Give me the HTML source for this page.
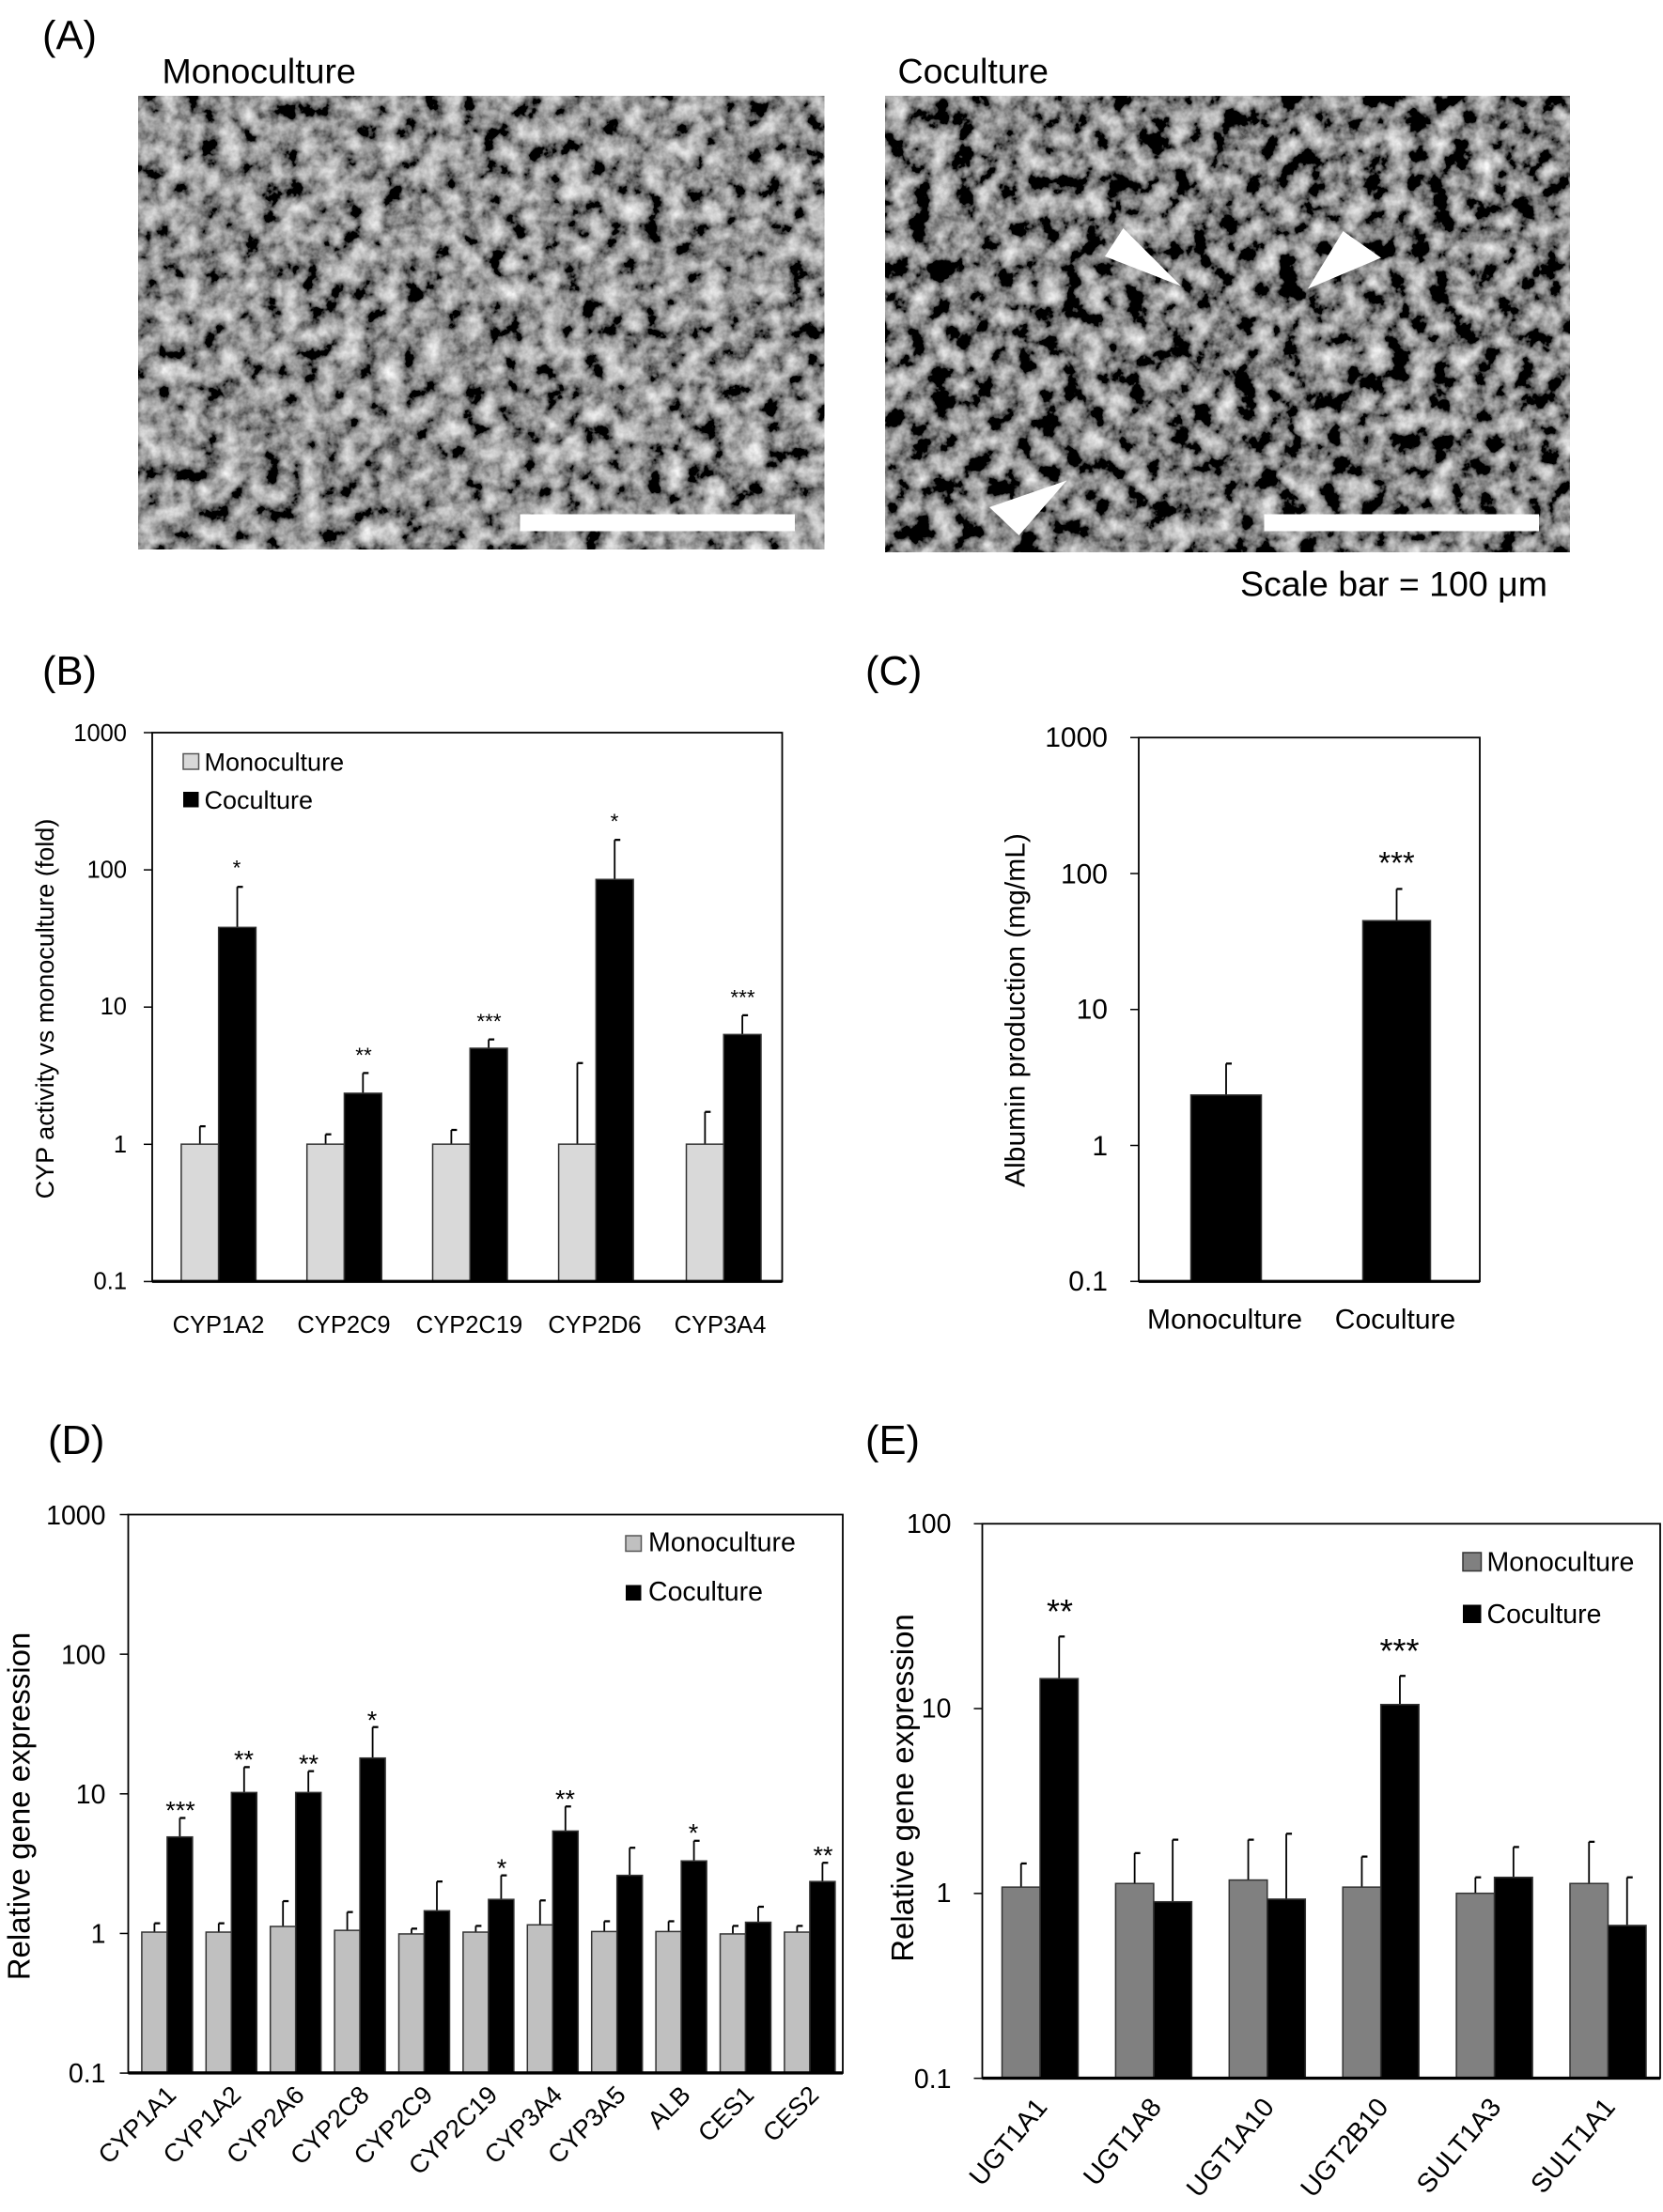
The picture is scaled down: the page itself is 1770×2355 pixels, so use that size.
<!DOCTYPE html>
<html><head><meta charset="utf-8"><style>
html,body{margin:0;padding:0;background:#fff;}
svg{display:block;font-family:"Liberation Sans",Arial,sans-serif;}
</style></head><body>
<svg id="s" xmlns="http://www.w3.org/2000/svg" width="1770" height="2355" viewBox="0 0 1180 1570">
<defs>
<filter id="n1" x="0" y="0" width="100%" height="100%">
<feTurbulence type="fractalNoise" baseFrequency="0.07" numOctaves="4" seed="4"/>
<feColorMatrix type="matrix" values="1.5 0 0 0 -0.45  1.5 0 0 0 -0.45  1.5 0 0 0 -0.45  0 0 0 0 1"/>
</filter>
<filter id="n2" x="0" y="0" width="100%" height="100%">
<feTurbulence type="fractalNoise" baseFrequency="0.065" numOctaves="4" seed="9"/>
<feColorMatrix type="matrix" values="1.7 0 0 0 -0.62  1.7 0 0 0 -0.62  1.7 0 0 0 -0.62  0 0 0 0 1"/>
</filter>
</defs>
<rect width="1180" height="1570" fill="#fff"/>

<!-- Panel A -->
<text x="30" y="35" font-size="29">(A)</text>
<text x="115" y="59" font-size="25">Monoculture</text>
<text x="637" y="59" font-size="25">Coculture</text>
<rect x="98" y="68" width="487" height="322" fill="#555"/>
<rect x="98" y="68" width="487" height="322" filter="url(#n1)"/>
<rect x="628" y="68" width="486" height="324" fill="#444"/>
<rect x="628" y="68" width="486" height="324" filter="url(#n2)"/>
<rect x="369" y="365" width="195" height="12" fill="#fff"/>
<rect x="897" y="365" width="195" height="12" fill="#fff"/>
<polygon points="784,182 797,162 838,203" fill="#fff"/>
<polygon points="928,205 953,164 980,183" fill="#fff"/>
<polygon points="757,341 702,360 723,380" fill="#fff"/>
<text x="880" y="423" font-size="25">Scale bar =  100 μm</text>

<!-- Panel B -->
<text x="30" y="486" font-size="29">(B)</text>
<g font-size="17" text-anchor="end">
<text x="90" y="526">1000</text><text x="90" y="623">100</text><text x="90" y="720">10</text><text x="90" y="818">1</text><text x="90" y="915">0.1</text>
</g>
<text transform="translate(38,716) rotate(-90)" font-size="18" text-anchor="middle">CYP activity vs monoculture (fold)</text>
<rect x="130" y="535" width="11" height="11" fill="#d9d9d9" stroke="#555" stroke-width="1"/>
<text x="145" y="547" font-size="18">Monoculture</text>
<rect x="130" y="562" width="11" height="11" fill="#000"/>
<text x="145" y="574" font-size="18">Coculture</text>
<g font-size="17" text-anchor="middle">
<text x="155" y="946">CYP1A2</text><text x="244" y="946">CYP2C9</text><text x="333" y="946">CYP2C19</text><text x="422" y="946">CYP2D6</text><text x="511" y="946">CYP3A4</text>
</g>
<g font-size="15" text-anchor="middle">
<text x="168" y="621">*</text><text x="258" y="754">**</text><text x="347" y="730">***</text><text x="436" y="588">*</text><text x="527" y="713">***</text>
</g>

<!-- Panel C -->
<text x="614" y="486" font-size="29">(C)</text>
<g font-size="20" text-anchor="end">
<text x="786" y="530">1000</text><text x="786" y="627">100</text><text x="786" y="723">10</text><text x="786" y="820">1</text><text x="786" y="916">0.1</text>
</g>
<text transform="translate(727,717) rotate(-90)" font-size="20" text-anchor="middle">Albumin production (mg/mL)</text>
<g font-size="20" text-anchor="middle">
<text x="869" y="943">Monoculture</text><text x="990" y="943">Coculture</text>
</g>
<text x="991" y="620" font-size="22" text-anchor="middle">***</text>

<!-- Panel D -->
<text x="34" y="1032" font-size="29">(D)</text>
<g font-size="19" text-anchor="end">
<text x="75" y="1082">1000</text><text x="75" y="1181">100</text><text x="75" y="1280">10</text><text x="75" y="1379">1</text><text x="75" y="1478">0.1</text>
</g>
<text transform="translate(21,1282) rotate(-90)" font-size="22" text-anchor="middle">Relative gene expression</text>
<rect x="444" y="1090" width="11" height="11" fill="#c0c0c0" stroke="#555" stroke-width="1"/>
<text x="460" y="1101" font-size="19">Monoculture</text>
<rect x="444" y="1125" width="11" height="11" fill="#000"/>
<text x="460" y="1136" font-size="19">Coculture</text>
<g font-size="18" text-anchor="end">
<text transform="translate(126,1488) rotate(-45)">CYP1A1</text>
<text transform="translate(172,1488) rotate(-45)">CYP1A2</text>
<text transform="translate(217,1488) rotate(-45)">CYP2A6</text>
<text transform="translate(263,1488) rotate(-45)">CYP2C8</text>
<text transform="translate(308,1488) rotate(-45)">CYP2C9</text>
<text transform="translate(354,1488) rotate(-45)">CYP2C19</text>
<text transform="translate(400,1488) rotate(-45)">CYP3A4</text>
<text transform="translate(445,1488) rotate(-45)">CYP3A5</text>
<text transform="translate(491,1488) rotate(-45)">ALB</text>
<text transform="translate(536,1488) rotate(-45)">CES1</text>
<text transform="translate(582,1488) rotate(-45)">CES2</text>
</g>
<g font-size="18" text-anchor="middle">
<text x="128" y="1291">***</text><text x="173" y="1255">**</text><text x="219" y="1258">**</text><text x="264" y="1227">*</text>
<text x="356" y="1332">*</text><text x="401" y="1283">**</text><text x="492" y="1307">*</text><text x="584" y="1323">**</text>
</g>

<!-- Panel E -->
<text x="614" y="1032" font-size="29">(E)</text>
<g font-size="19" text-anchor="end">
<text x="675" y="1088">100</text><text x="675" y="1219">10</text><text x="675" y="1350">1</text><text x="675" y="1482">0.1</text>
</g>
<text transform="translate(648,1269) rotate(-90)" font-size="22" text-anchor="middle">Relative gene expression</text>
<rect x="1038" y="1102" width="13" height="13" fill="#808080" stroke="#333" stroke-width="1"/>
<text x="1055" y="1115" font-size="19">Monoculture</text>
<rect x="1038" y="1139" width="13" height="13" fill="#000"/>
<text x="1055" y="1152" font-size="19">Coculture</text>
<g font-size="19" text-anchor="end">
<text transform="translate(744,1496) rotate(-50)">UGT1A1</text>
<text transform="translate(825,1496) rotate(-50)">UGT1A8</text>
<text transform="translate(905,1496) rotate(-50)">UGT1A10</text>
<text transform="translate(986,1496) rotate(-50)">UGT2B10</text>
<text transform="translate(1066,1496) rotate(-50)">SULT1A3</text>
<text transform="translate(1147,1496) rotate(-50)">SULT1A1</text>
</g>
<g font-size="24" text-anchor="middle">
<text x="752" y="1152">**</text><text x="993" y="1180">***</text>
</g>
<g id="g"></g>
</svg>
<script>
(function(){
var g=document.getElementById('g'),NS='http://www.w3.org/2000/svg';
function el(t,a){var e=document.createElementNS(NS,t);for(var k in a)e.setAttribute(k,a[k]);g.appendChild(e);return e;}
function L(v){return Math.log(v)/Math.LN10;}
function bar(x,w,y0,y,fill,yerr){
  el('line',{x1:x+w/2,x2:x+w/2,y1:y,y2:yerr,stroke:'#000','stroke-width':1.2});
  el('line',{x1:x+w/2,x2:x+w/2+4,y1:yerr,y2:yerr,stroke:'#000','stroke-width':1.5});
  el('rect',{x:x,y:y,width:w,height:y0-y,fill:fill,stroke:'#333','stroke-width':1});
}
function box(x1,y1,x2,y2){
  el('rect',{x:x1,y:y1,width:x2-x1,height:y2-y1,fill:'none',stroke:'#000','stroke-width':1.2});
  el('line',{x1:x1,x2:x2,y1:y2,y2:y2,stroke:'#000','stroke-width':2.2});
}
var yB=function(v){return 812.1-97.4*L(v);};
var Lm=[128.6,217.8,307,396.4,487];
var mB=[[1,1.35],[1,1.18],[1,1.27],[1,3.9],[1,1.72]];
var cB=[[38,75],[2.35,3.3],[5,5.8],[85,165],[6.3,8.7]];
for(var i=0;i<5;i++){bar(Lm[i],26.5,909.5,yB(mB[i][0]),'#d9d9d9',yB(mB[i][1]));bar(Lm[i]+26.5,26.5,909.5,yB(cB[i][0]),'#000',yB(cB[i][1]));}
box(108,520,555,909.5);
for(var k=0;k<5;k++)el('line',{x1:102,x2:108,y1:520+97.4*k,y2:520+97.4*k,stroke:'#000'});
var yC=function(v){return 813-96.5*L(v);};
bar(845,50,909.5,yC(2.35),'#000',yC(4.0));
bar(967,48,909.5,yC(45),'#000',yC(77));
box(808,523.5,1050,909.5);
for(var k=0;k<5;k++)el('line',{x1:802,x2:808,y1:523.5+96.5*k,y2:523.5+96.5*k,stroke:'#000'});
var yD=function(v){return 1372.2-99.1*L(v);};
var mD=[[1.02,1.18],[1.02,1.18],[1.12,1.7],[1.05,1.42],[0.99,1.08],[1.02,1.13],[1.15,1.72],[1.03,1.22],[1.03,1.22],[0.99,1.13],[1.02,1.13]];
var cD=[[4.9,6.7],[10.2,15.5],[10.2,14.5],[18,30],[1.45,2.35],[1.75,2.6],[5.4,8.1],[2.6,4.1],[3.3,4.6],[1.2,1.55],[2.35,3.2]];
for(var i=0;i<11;i++){var x=100.6+45.6*i;bar(x,18,1471.3,yD(mD[i][0]),'#c0c0c0',yD(mD[i][1]));bar(x+18,18,1471.3,yD(cD[i][0]),'#000',yD(cD[i][1]));}
box(91,1075,598,1471.3);
for(var k=0;k<5;k++)el('line',{x1:85,x2:91,y1:1075+99.1*k,y2:1075+99.1*k,stroke:'#000'});
var yE=function(v){return 1343.8-131.2*L(v);};
var mE=[[1.08,1.45],[1.13,1.65],[1.18,1.95],[1.08,1.58],[1.0,1.22],[1.13,1.9]];
var cE=[[14.5,24.5],[0.9,1.95],[0.93,2.1],[10.5,15],[1.22,1.78],[0.67,1.22]];
for(var i=0;i<6;i++){var x=711+80.6*i;bar(x,27,1475,yE(mE[i][0]),'#808080',yE(mE[i][1]));bar(x+27,27,1475,yE(cE[i][0]),'#000',yE(cE[i][1]));}
box(697,1081.5,1178,1475);
for(var k=0;k<4;k++)el('line',{x1:691,x2:697,y1:1081.5+131.2*k,y2:1081.5+131.2*k,stroke:'#000'});
})();
</script>
</body></html>
